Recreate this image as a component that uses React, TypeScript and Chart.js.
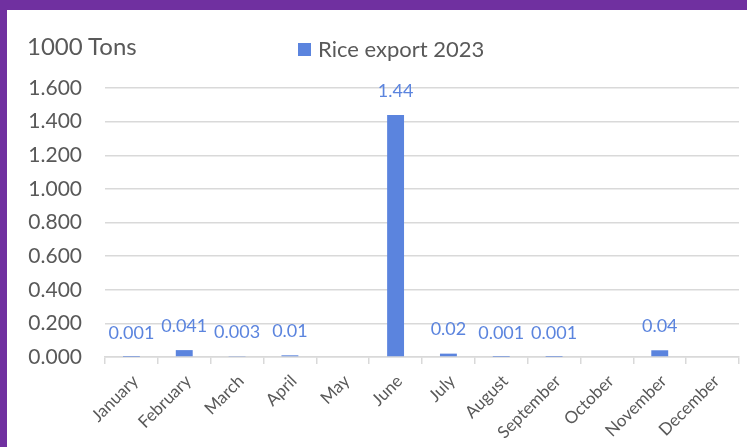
import React, { useEffect, useRef } from "react";
import { Chart, registerables } from "chart.js";

Chart.register(...registerables);

const months = [
  "January", "February", "March", "April", "May", "June",
  "July", "August", "September", "October", "November", "December",
];
const riceExport: (number | null)[] = [
  0.001, 0.041, 0.003, 0.01, null, 1.44, 0.02, 0.001, 0.001, null, 0.04, null,
];
const seriesName = "Rice export 2023";
const unitLabel = "1000 Tons";
const yMin = 0;
const yMax = 1.6;
const yStep = 0.2;

const BLUE = "#5b84de";
const GRAY_TEXT = "#595959";
const GRID = "#d9d9d9";
const FONT = "Lato, 'Open Sans', sans-serif";

const valueLabels = {
  id: "valueLabels",
  afterDatasetsDraw(chart: any) {
    const ctx = chart.ctx;
    const meta = chart.getDatasetMeta(0);
    const data = chart.data.datasets[0].data;
    ctx.save();
    ctx.font = `18px ${FONT}`;
    ctx.fillStyle = BLUE;
    ctx.textAlign = "center";
    ctx.textBaseline = "middle";
    meta.data.forEach((el: any, i: number) => {
      const v = data[i];
      if (v === null || v === undefined) return;
      ctx.fillText(String(v), el.x, el.y - 24);
    });
    ctx.restore();
  },
};

export default function App() {
  const ref = useRef<HTMLCanvasElement | null>(null);
  useEffect(() => {
    if (!ref.current) return;
    const chart = new Chart(ref.current, {
      type: "bar",
      data: {
        labels: months,
        datasets: [
          {
            label: seriesName,
            data: riceExport,
            backgroundColor: BLUE,
            categoryPercentage: 1,
            barPercentage: 0.32,
          },
        ],
      },
      options: {
        responsive: false,
        animation: false,
        layout: { padding: { top: 88, right: 8, left: 0, bottom: 0 } },
        plugins: {
          legend: { display: false },
          title: { display: false },
          tooltip: { enabled: false },
        },
        scales: {
          x: {
            afterFit: (s: any) => {
              s.height = 90;
            },
            grid: {
              offset: true,
              drawOnChartArea: false,
              drawTicks: true,
              tickLength: 7,
              color: GRID,
              lineWidth: 1.5,
            },
            border: { display: true, color: GRID, width: 1.5 },
            ticks: {
              autoSkip: false,
              minRotation: 45,
              maxRotation: 45,
              color: GRAY_TEXT,
              padding: 7,
              labelOffset: 4,
              font: { family: FONT, size: 17 },
            },
          },
          y: {
            min: yMin,
            max: yMax,
            afterFit: (s: any) => {
              s.width = 105;
            },
            grid: { color: GRID, lineWidth: 1.5, drawTicks: false },
            border: { display: false },
            ticks: {
              stepSize: yStep,
              color: GRAY_TEXT,
              padding: 23,
              font: { family: FONT, size: 21 },
              callback: (v: any) => Number(v).toFixed(3),
            },
          },
        },
      },
      plugins: [valueLabels],
    });
    return () => chart.destroy();
  }, []);

  return (
    <div
      style={{
        position: "fixed",
        left: 0,
        top: 0,
        width: 747,
        height: 447,
        background: "#ffffff",
        overflow: "hidden",
      }}
    >
      <div
        style={{
          position: "absolute",
          left: 0,
          top: 0,
          width: 747,
          height: 10,
          background: "#7030a0",
        }}
      />
      <div
        style={{
          position: "absolute",
          left: 0,
          top: 0,
          width: 7,
          height: 447,
          background: "#7030a0",
        }}
      />
      <canvas
        ref={ref}
        width={747}
        height={447}
        style={{ position: "absolute", left: 0, top: 0 }}
      />
      <div
        style={{
          position: "absolute",
          left: 27,
          top: 34,
          fontFamily: FONT,
          fontSize: 24,
          lineHeight: 1,
          color: GRAY_TEXT,
          whiteSpace: "nowrap",
        }}
      >
        {unitLabel}
      </div>
      <div
        style={{
          position: "absolute",
          left: 298,
          top: 43,
          width: 13,
          height: 13,
          background: BLUE,
        }}
      />
      <div
        style={{
          position: "absolute",
          left: 318,
          top: 38,
          fontFamily: FONT,
          fontSize: 22,
          lineHeight: 1,
          color: GRAY_TEXT,
          whiteSpace: "nowrap",
        }}
      >
        {seriesName}
      </div>
    </div>
  );
}
